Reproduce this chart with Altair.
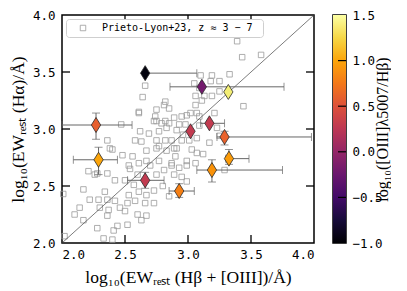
import altair as alt
import pandas as pd

# ---- grey comparison sample (Prieto-Lyon+23) ----
sq_x = [3.53, 3.25, 3.39, 3.43, 3.58, 3.33, 3.19, 3.10, 3.18, 3.25, 3.05, 2.66, 3.25, 3.09,
        2.64, 3.06, 3.13, 3.19, 2.82, 3.44, 3.06, 3.11, 2.81, 2.75, 2.61, 2.85,
        2.74, 2.61, 2.75, 2.82, 2.89, 2.95, 3.02, 3.09, 2.99, 3.07, 3.21, 2.47, 2.85, 2.93,
        2.98, 3.09, 3.23, 2.83, 2.73, 2.79,
        2.62, 2.69, 2.77, 2.91, 3.25, 2.36, 2.58, 2.63, 2.75, 2.82, 2.87, 2.95, 3.01, 3.07,
        3.17, 2.77, 2.89, 2.38, 2.96,
        2.48, 2.56, 2.67, 2.75, 2.83, 2.91, 3.03, 3.07, 2.40, 2.67, 2.61, 2.77, 2.87, 2.99,
        3.06, 2.53,
        2.21, 2.28, 2.36, 2.60, 2.75, 2.81, 2.89, 2.54, 2.70, 2.87, 2.93, 2.99, 3.29, 2.26,
        2.02, 2.33, 2.40, 2.28, 2.41, 2.44, 2.52, 2.10, 2.17, 2.36, 2.50, 2.60, 2.63, 2.67,
        2.14, 2.22, 2.29, 2.36, 2.42, 2.52, 2.58, 2.66, 2.73, 2.17, 2.85, 2.73, 2.67, 2.42,
        2.50, 2.57, 2.01, 2.34, 2.53, 2.61, 2.99, 2.80, 2.46, 2.37, 2.30, 2.90, 3.12, 2.95]
sq_y = [3.89, 3.83, 3.77, 3.63, 3.65, 3.48, 3.47, 3.47, 3.42, 3.42, 3.40, 3.38, 3.33, 3.36,
        3.28, 3.29, 3.29, 3.29, 3.24, 3.20, 3.21, 3.25, 3.21, 3.17, 3.15, 3.18,
        3.11, 3.14, 3.07, 3.07, 3.10, 3.11, 3.14, 3.11, 3.12, 3.14, 3.14, 3.04, 3.05, 3.04,
        3.04, 3.03, 3.01, 3.01, 3.07, 3.05,
        2.98, 2.96, 2.98, 2.99, 2.94, 2.90, 2.90, 2.89, 2.90, 2.90, 2.90, 2.90, 2.90, 2.92,
        2.88, 2.85, 2.83, 2.83, 2.95,
        2.77, 2.76, 2.81, 2.83, 2.81, 2.83, 2.82, 2.79, 2.82, 2.72, 2.70, 2.72, 2.70, 2.72,
        2.70, 2.68,
        2.63, 2.61, 2.61, 2.60, 2.60, 2.64, 2.60, 2.65, 2.68, 2.68, 2.66, 2.68, 2.64, 2.60,
        2.06, 2.04, 2.03, 2.13, 2.11, 2.15, 2.16, 2.25, 2.20, 2.24, 2.28, 2.25, 2.20, 2.24,
        2.31, 2.38, 2.38, 2.38, 2.37, 2.35, 2.37, 2.35, 2.35, 2.47, 2.41, 2.46, 2.42, 2.55,
        2.55, 2.51, 2.43, 2.45, 2.42, 2.45, 2.54, 2.50, 2.31, 2.29, 2.31, 2.76, 2.78, 2.58]
sq_label = "Prieto-Lyon+23,  z ≈ 3 − 7"

# ---- highlighted objects ----
obj_x = [2.66, 3.11, 3.32, 3.17, 3.02, 3.29, 2.27, 2.29, 2.66, 2.93, 3.19, 3.325]
obj_y = [3.49, 3.37, 3.325, 3.05, 2.98, 2.93, 3.035, 2.73, 2.55, 2.456, 2.64, 2.74]
obj_c = [-0.95, -0.2, 1.38, 0.3, 0.3, 0.62, 0.6, 1.0, 0.3, 0.8, 0.9, 0.95]
obj_xlo = [2.66, 2.857, None, 3.10, None, 3.23, 2.0, 2.09, 2.52, 2.85, 3.07, 3.30]
obj_xhi = [3.07, 3.762, None, 3.29, None, 3.98, 2.556, 2.44, 2.81, 3.05, 3.75, 3.484]
obj_ylo = [None, None, None, None, None, 2.86, 2.91, 2.60, 2.48, 2.40, 2.535, 2.69]
obj_yhi = [None, None, None, None, None, 2.98, 3.14, 2.84, 2.62, 2.52, 2.73, 2.82]

diag_v = [2.0, 4.0]
ax_ticks = [2.0, 2.5, 3.0, 3.5, 4.0]
inner_ticks = [2.5, 3.0, 3.5]
cb_ticks = [-1.0, -0.5, 0.0, 0.5, 1.0, 1.5]
cb_inner = [-0.5, 0.0, 0.5, 1.0]
cb_range = [-1.0, 1.5]

inferno = ["#000004", "#160b39", "#420a68", "#6a176e", "#932667", "#bc3754",
           "#dd513a", "#f37819", "#fca50a", "#f6d746", "#fcffa4"]

W, H = 252, 228
MONO = "DejaVu Sans Mono"
SERIF = "Liberation Serif"
XT = "log₁₀(EWᵣₑₛₜ (Hβ  + [OIII])/Å)"
YT = "log₁₀(EWᵣₑₛₜ (Hα)/Å)"

sq = pd.DataFrame({"x": sq_x, "y": sq_y, "lab": sq_label})
obj = pd.DataFrame({"x": obj_x, "y": obj_y, "c": obj_c,
                    "xlo": obj_xlo, "xhi": obj_xhi, "ylo": obj_ylo, "yhi": obj_yhi})
xerr = obj.dropna(subset=["xlo"])
yerr = obj.dropna(subset=["ylo"])
diag = pd.DataFrame({"x": diag_v, "y": diag_v})
tk = pd.DataFrame({"v": inner_ticks})

xs = alt.Scale(domain=[2, 4], nice=False, zero=False)
ys = alt.Scale(domain=[2, 4], nice=False, zero=False)

xaxis = alt.Axis(values=ax_ticks, format=".1f", ticks=False, tickSize=0, domain=False, grid=False,
                 labelFont=MONO, labelFontSize=12.5, labelColor="black", labelPadding=5,
                 titleFont=SERIF, titleFontSize=17.5,
                 titleFontWeight="normal", titleColor="black", titlePadding=8)
yaxis = alt.Axis(values=ax_ticks, format=".1f", ticks=False, tickSize=0, domain=False, grid=False,
                 labelFont=MONO, labelFontSize=12.5, labelColor="black", labelPadding=7,
                 titleFont=SERIF, titleFontSize=17.5,
                 titleFontWeight="normal", titleColor="black", titlePadding=5)


def X(field, **kw):
    return alt.X(field, scale=xs, title=XT, **kw)


def Y(field, **kw):
    return alt.Y(field, scale=ys, title=YT, **kw)


squares = alt.Chart(sq).mark_point(filled=False, stroke="#9a9a9a", strokeWidth=0.8, size=30, opacity=1).encode(
    x=X("x:Q", axis=xaxis),
    y=Y("y:Q", axis=yaxis),
    shape=alt.Shape("lab:N", scale=alt.Scale(range=["square"]),
                    legend=alt.Legend(title=None, orient="top-left", offset=4, padding=4,
                                      strokeColor="#cfcfcf", fillColor="white", cornerRadius=3,
                                      labelFont=MONO, labelFontSize=10, labelColor="black",
                                      labelOffset=14, symbolSize=30, symbolStrokeColor="#9a9a9a",
                                      symbolFillColor="white", symbolStrokeWidth=0.8,
                                      symbolOffset=8, labelLimit=300)),
)

line = alt.Chart(diag).mark_line(color="#444444", strokeWidth=0.7).encode(
    x=X("x:Q"), y=Y("y:Q"))

ebx = alt.Chart(xerr).mark_errorbar(ticks={"size": 8}, color="#666666", thickness=1).encode(
    x=X("xlo:Q"), x2="xhi:Q", y=Y("y:Q"))
eby = alt.Chart(yerr).mark_errorbar(ticks={"size": 8}, color="#666666", thickness=1).encode(
    y=Y("ylo:Q"), y2="yhi:Q", x=X("x:Q"))

diamonds = alt.Chart(obj).mark_point(shape="M0,-1L0.62,0L0,1L-0.62,0Z", filled=True, size=225,
                                     stroke="#2a2a2a", strokeWidth=0.8, opacity=1).encode(
    x=X("x:Q"), y=Y("y:Q"),
    fill=alt.Fill("c:Q", scale=alt.Scale(scheme="inferno", domain=[-1, 1.5]), legend=None))

rule_style = dict(color="black", strokeWidth=1.3)
tb = alt.Chart(tk).mark_rule(**rule_style).encode(x=X("v:Q"), y=alt.value(H), y2=alt.value(H - 8))
tt = alt.Chart(tk).mark_rule(**rule_style).encode(x=X("v:Q"), y=alt.value(0), y2=alt.value(8))
tl = alt.Chart(tk).mark_rule(**rule_style).encode(y=Y("v:Q"), x=alt.value(0), x2=alt.value(8))
tr = alt.Chart(tk).mark_rule(**rule_style).encode(y=Y("v:Q"), x=alt.value(W), x2=alt.value(W - 8))

main = alt.layer(squares, line, ebx, eby, diamonds, tb, tt, tl, tr).properties(width=W, height=H)

# ---- colour bar ----
cbdf = pd.DataFrame({"lo": [cb_range[0]], "hi": [cb_range[1]]})
grad = alt.LinearGradient(gradient="linear",
                          stops=[alt.GradientStop(color=c, offset=i / (len(inferno) - 1)) for i, c in enumerate(inferno)],
                          x1=0, x2=0, y1=1, y2=0)
cbs = alt.Scale(domain=cb_range, nice=False, zero=False)
CT = "log₁₀([OIII]λ5007/Hβ)"
cbar = alt.Chart(cbdf).mark_rect(color=grad).encode(
    y=alt.Y("lo:Q", scale=cbs, title=CT,
            axis=alt.Axis(orient="right", values=cb_ticks, format=".1f", ticks=False, tickSize=0,
                          domain=False, grid=False, labelFont=MONO, labelFontSize=12.5,
                          labelColor="black", labelPadding=6,
                          titleFont=SERIF, titleFontSize=16,
                          titleFontWeight="normal", titleColor="black", titleAngle=270,
                          titlePadding=8)),
    y2="hi:Q", x=alt.value(0), x2=alt.value(13))
cbt = alt.Chart(pd.DataFrame({"v": cb_inner})).mark_rule(color="black", strokeWidth=1.2).encode(
    y=alt.Y("v:Q", scale=cbs, title=CT), x=alt.value(5), x2=alt.value(13))
colorbar = alt.layer(cbar, cbt).properties(width=13, height=H)

chart = (alt.hconcat(main, colorbar, spacing=15)
         .resolve_legend(shape="independent")
         .configure(padding=0)
         .configure_view(stroke="black", strokeWidth=1.5))

chart.save("out.html", embed_options={"renderer": "svg", "actions": False})
